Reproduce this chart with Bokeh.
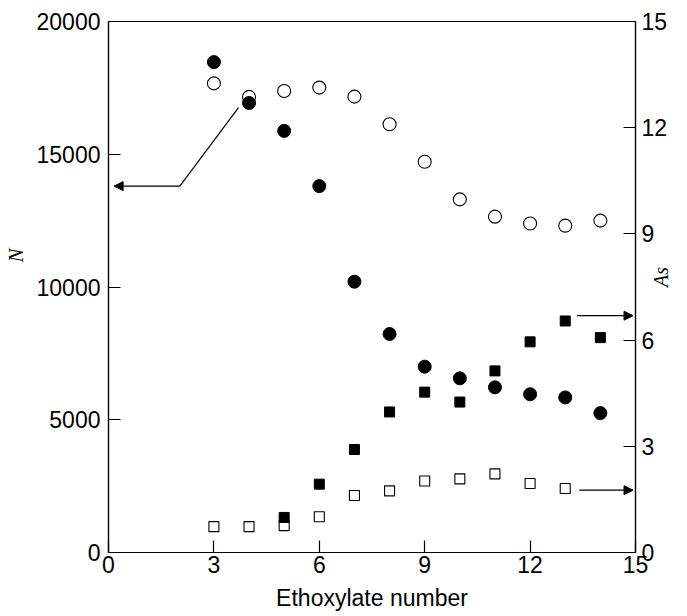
from bokeh.plotting import figure
from bokeh.models import Range1d, LinearAxis, FixedTicker, Arrow, NormalHead
from bokeh.embed import file_html
from bokeh.resources import INLINE

# ---- data ----
eth_N = [3, 4, 5, 6, 7, 8, 9, 10, 11, 12, 13, 14]
N_filled = [18470, 16930, 15880, 13800, 10200, 8230, 7000, 6560, 6220, 5960, 5840, 5250]
N_open = [17670, 17160, 17380, 17510, 17170, 16130, 14720, 13300, 12650, 12390, 12310, 12500]

eth_As_filled = [5, 6, 7, 8, 9, 10, 11, 12, 13, 14]
As_filled = [0.99, 1.93, 2.91, 3.97, 4.53, 4.25, 5.13, 5.95, 6.54, 6.07]
eth_As_open = [3, 4, 5, 6, 7, 8, 9, 10, 11, 12, 13]
As_open = [0.73, 0.73, 0.76, 1.01, 1.61, 1.74, 2.02, 2.08, 2.22, 1.95, 1.81]

x_ticks = [0, 3, 6, 9, 12, 15]
N_ticks = [0, 5000, 10000, 15000, 20000]
As_ticks = [0, 3, 6, 9, 12, 15]

# arrows (annotation pointers)
N_ptr_line_x = [3.70, 2.03]
N_ptr_line_y = [16760, 13800]
N_ptr_tip_x = 0.16
As_ptr_start_x = [13.34, 13.40]
As_ptr_end_x = [14.93, 14.93]
As_ptr_y = [6.69, 1.76]

SANS = "Liberation Sans"
SERIF = "Liberation Serif"

p = figure(width=687, height=616, x_range=Range1d(0, 15), y_range=Range1d(0, 20000),
           output_backend="svg", toolbar_location=None,
           min_border_left=106, min_border_right=52, min_border_top=21, min_border_bottom=64)
p.extra_y_ranges = {"as": Range1d(0, 15)}
p.grid.visible = False
p.outline_line_color = "black"
p.outline_line_width = 1.2
p.background_fill_color = "white"
p.border_fill_color = "white"

def style_axis(ax, ticks):
    ax.ticker = FixedTicker(ticks=ticks)
    ax.major_tick_in = 12
    ax.major_tick_out = 0
    ax.minor_tick_in = 0
    ax.minor_tick_out = 0
    ax.major_label_text_font = SANS
    ax.major_label_text_font_size = "23px"
    ax.major_label_text_color = "black"
    ax.axis_line_color = "black"
    ax.axis_line_width = 1.2
    ax.major_tick_line_color = "black"
    ax.major_tick_line_width = 1.2
    ax.axis_label_text_color = "black"

style_axis(p.xaxis[0], x_ticks)
p.xaxis[0].major_label_standoff = 3
p.xaxis[0].axis_label = "Ethoxylate number"
p.xaxis[0].axis_label_text_font = SANS
p.xaxis[0].axis_label_text_font_style = "normal"
p.xaxis[0].axis_label_text_font_size = "23px"
p.xaxis[0].axis_label_standoff = 9

style_axis(p.yaxis[0], N_ticks)
p.yaxis[0].major_label_standoff = 8
p.yaxis[0].axis_label = "\u00a0" * 12 + "N"
p.yaxis[0].axis_label_text_font = SERIF
p.yaxis[0].axis_label_text_font_style = "italic"
p.yaxis[0].axis_label_text_font_size = "21px"
p.yaxis[0].axis_label_standoff = 6

ax_r = LinearAxis(y_range_name="as")
style_axis(ax_r, As_ticks)
ax_r.major_label_standoff = 6
ax_r.axis_label = "As"
ax_r.axis_label_orientation = 1.5708
ax_r.axis_label_text_font = SERIF
ax_r.axis_label_text_font_style = "italic"
ax_r.axis_label_text_font_size = "20px"
ax_r.axis_label_standoff = -9
p.add_layout(ax_r, "right")

# ---- markers ----
p.scatter(eth_N, N_open, marker="circle", size=13, fill_color="white",
          line_color="black", line_width=1.1)
p.scatter(eth_N, N_filled, marker="circle", size=13, fill_color="black", line_color="black")
p.scatter(eth_As_open, As_open, marker="square", size=10, fill_color="white",
          line_color="black", line_width=1.1, y_range_name="as")
p.scatter(eth_As_filled, As_filled, marker="square", size=10, fill_color="black",
          line_color="black", y_range_name="as")

# ---- pointer arrows ----
p.line(N_ptr_line_x, N_ptr_line_y, line_color="black", line_width=1.2)
p.add_layout(Arrow(x_start=N_ptr_line_x[1], y_start=N_ptr_line_y[1],
                   x_end=N_ptr_tip_x, y_end=N_ptr_line_y[1],
                   line_color="black", line_width=1.2,
                   end=NormalHead(size=9, fill_color="black", line_color="black")))
for xs, xe, yy in zip(As_ptr_start_x, As_ptr_end_x, As_ptr_y):
    p.add_layout(Arrow(x_start=xs, y_start=yy, x_end=xe, y_end=yy, y_range_name="as",
                       line_color="black", line_width=1.2,
                       end=NormalHead(size=9, fill_color="black", line_color="black")))

open("out.html", "w").write(file_html(p, INLINE))
